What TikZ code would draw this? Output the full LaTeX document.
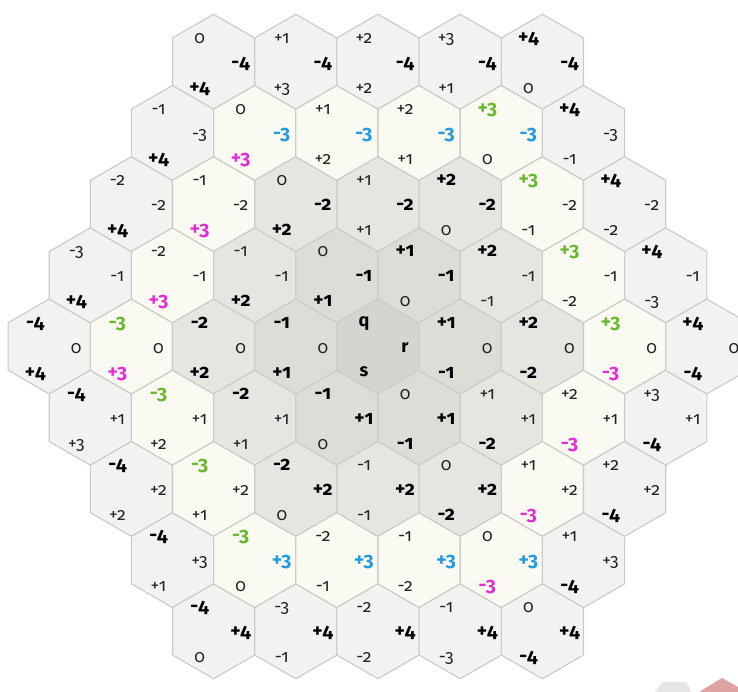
\documentclass[tikz,border=0pt]{standalone}
\usepackage{fontspec}
\setmainfont{Fira Sans}[Numbers=OldStyle]
\definecolor{ring0}{HTML}{D5D5CF}
\definecolor{ring1}{HTML}{DDDDD8}
\definecolor{ring2}{HTML}{E5E5E1}
\definecolor{ring3}{HTML}{FAFAF2}
\definecolor{ring4}{HTML}{F2F2F0}
\definecolor{edgegray}{HTML}{CACAC8}
\definecolor{qgreen}{HTML}{6AB82C}
\definecolor{rblue}{HTML}{1E9BE2}
\definecolor{smag}{HTML}{E52BD8}
\definecolor{labgray}{HTML}{222222}
\definecolor{pinkbit}{HTML}{DFA3A3}
\definecolor{graybit}{HTML}{E6E6E6}
\newcommand\fmtval[1]{\ifnum#1>0 +#1\else#1\fi}
\newcommand\hexlab[6]{% x, y, value, dist, color, name
  \pgfmathtruncatemacro\av{abs(#3)}%
  \ifnum\av=#4\relax
    \node[boldlab, text=#5, name=#6] at (#1,#2) {\fmtval{#3}};%
  \else
    \node[normlab, name=#6] at (#1,#2) {\fmtval{#3}};%
  \fi}
\begin{document}
\begin{tikzpicture}[x=1pt,y=-1pt,
  hexedge/.style={draw=edgegray, line width=1.1pt, line join=miter},
  normlab/.style={anchor=base, inner sep=0pt, text=labgray, font=\fontsize{17.5}{17.5}\selectfont},
  boldlab/.style={anchor=base, inner sep=0pt, font=\fontsize{19.5}{19.5}\selectfont\bfseries},
  centerlab/.style={anchor=base, inner sep=0pt, text=black, font=\fontsize{18}{18}\selectfont\bfseries}]
\useasboundingbox (0,0) rectangle (738,692);
\clip (0,0) rectangle (738,692);
\fill[graybit] (655,692) -- (662,682) -- (686,682) -- (692,692) -- cycle;
\fill[pinkbit] (699,692) -- (722,678) -- (738,687) -- (738,692) -- cycle;
\foreach \q in {-4,...,4}{
  \foreach \r in {-4,...,4}{
    \pgfmathtruncatemacro\s{-\q-\r}
    \pgfmathtruncatemacro\d{max(abs(\q),abs(\r),abs(\s))}
    \ifnum\d<5
      \pgfmathsetmacro\cx{378+82.2*(\q+\r/2)}
      \pgfmathsetmacro\cy{346.5+71.2*\r}
      \draw[hexedge, fill=ring\d] (\cx,\cy-47.46) -- (\cx+41.1,\cy-23.73) -- (\cx+41.1,\cy+23.73)
        -- (\cx,\cy+47.46) -- (\cx-41.1,\cy+23.73) -- (\cx-41.1,\cy-23.73) -- cycle;
    \fi
  }
}
\foreach \q in {-4,...,4}{
  \foreach \r in {-4,...,4}{
    \pgfmathtruncatemacro\s{-\q-\r}
    \pgfmathtruncatemacro\d{max(abs(\q),abs(\r),abs(\s))}
    \ifnum\d<5
      \pgfmathsetmacro\cx{378+82.2*(\q+\r/2)}
      \pgfmathsetmacro\cy{346.5+71.2*\r}
      \ifnum\d=0
        \node[centerlab, name=lq0] at (\cx-14,\cy-20) {q};
        \node[centerlab, name=lr0] at (\cx+27,\cy+6) {r};
        \node[centerlab, name=ls0] at (\cx-14,\cy+30) {s};
      \else
        \ifnum\d=3
          \def\qc{qgreen}\def\rc{rblue}\def\sc{smag}%
        \else
          \def\qc{black}\def\rc{black}\def\sc{black}%
        \fi
        \hexlab{\cx-14}{\cy-18.5}{\q}{\d}{\qc}{lq\q x\r}
        \hexlab{\cx+27}{\cy+6.5}{\r}{\d}{\rc}{lr\q x\r}
        \hexlab{\cx-14}{\cy+31.5}{\s}{\d}{\sc}{ls\q x\r}
      \fi
    \fi
  }
}
\end{tikzpicture}
\end{document}
